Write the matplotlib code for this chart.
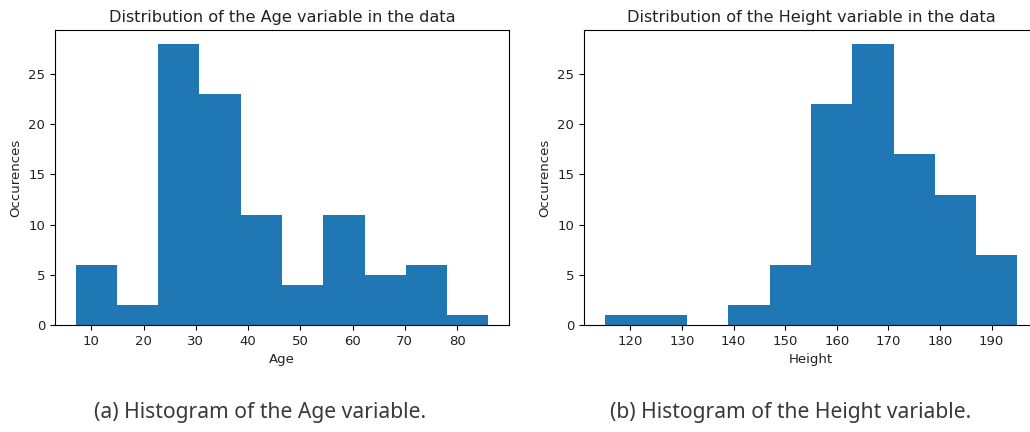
import matplotlib
matplotlib.use("Agg")
from matplotlib import pyplot as plt
import numpy as np

# bin edges and counts
age_edges = [7.0, 14.9, 22.8, 30.7, 38.6, 46.5, 54.4, 62.3, 70.2, 78.1, 86.0]
age_counts = [6, 2, 28, 23, 11, 4, 11, 5, 6, 1]

height_edges = [115, 123, 131, 139, 147, 155, 163, 171, 179, 187, 195]
height_counts = [1, 1, 0, 2, 6, 22, 28, 17, 13, 7]

captions = ["(a) Histogram of the Age variable.", "(b) Histogram of the Height variable."]

fig = plt.figure(figsize=(10.30, 4.32), dpi=100)

ax1 = fig.add_axes([0.0534, 0.2477, 0.4408, 0.6829])
ax2 = fig.add_axes([0.567, 0.2477, 0.4408, 0.6829])


def draw_hist(ax, edges, counts, name):
    edges = np.array(edges, dtype=float)
    centers = (edges[:-1] + edges[1:]) / 2
    ax.hist(centers, bins=edges, weights=counts, color="#1f77b4")
    ax.set_title("Distribution of the " + name + " variable in the data", fontsize=11.6, color="#222222")
    ax.set_xlabel(name, fontsize=9.5, color="#222222")
    ax.set_ylabel("Occurences", fontsize=9.5, color="#222222")
    ax.tick_params(labelsize=9.5, labelcolor="#222222")
    ax.set_yticks([0, 5, 10, 15, 20, 25])


draw_hist(ax1, age_edges, age_counts, "Age")
draw_hist(ax2, height_edges, height_counts, "Height")
ax2.set_xticks([120, 130, 140, 150, 160, 170, 180, 190])

# captions under each panel
fig.text(0.2523, 0.046, captions[0], ha="center", va="center", fontsize=15.2,
         family=["Noto Sans", "DejaVu Sans"], color="#3a3a3a")
fig.text(0.768, 0.046, captions[1], ha="center", va="center", fontsize=15.2,
         family=["Noto Sans", "DejaVu Sans"], color="#3a3a3a")

plt.savefig("out.png", dpi=100)
